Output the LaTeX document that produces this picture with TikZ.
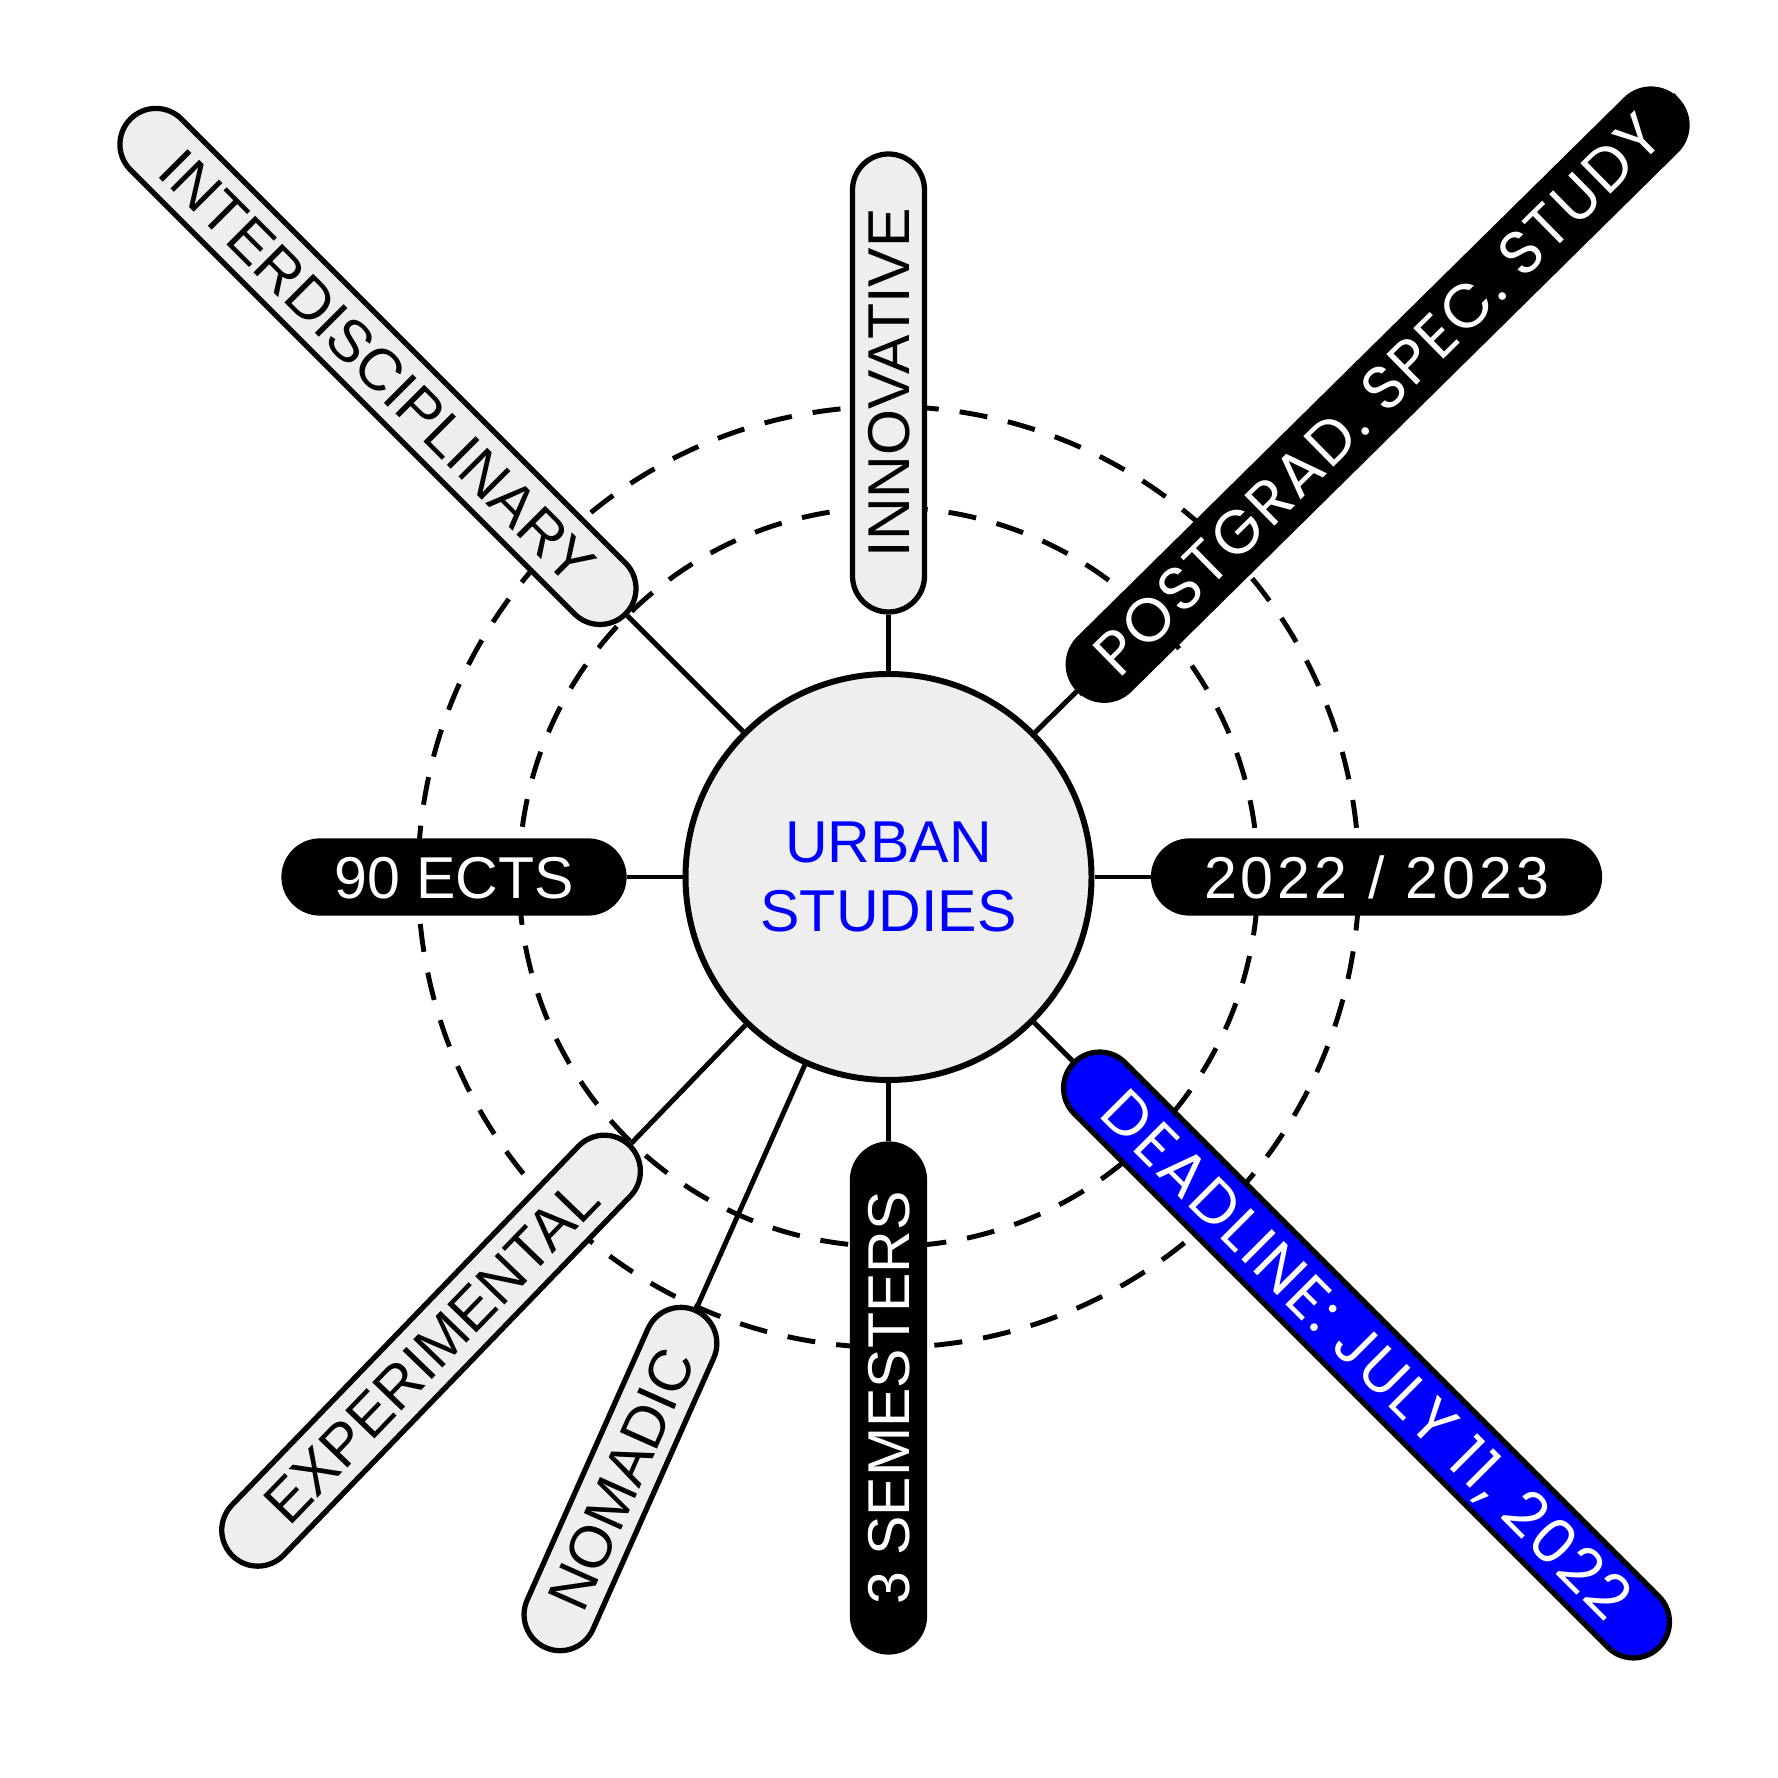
\documentclass[tikz,border=0pt]{standalone}
\usepackage{fontspec}
\setmainfont{Liberation Sans}
\newfontfamily\geofont[LetterSpace=4]{Poppins}
\newfontfamily\widefont[LetterSpace=7]{Liberation Sans}
\usetikzlibrary{calc}
\definecolor{pillgrey}{HTML}{EEEEEE}
\definecolor{deadblue}{HTML}{0000FF}

\begin{document}
\begin{tikzpicture}[
  hubNode/.style={circle, draw, line width=1.7pt, fill=pillgrey,
                  minimum size=4.06cm, inner sep=0pt, align=center,
                  text=deadblue, font=\fontsize{16.8}{19.4}\selectfont},
  pill/.style={rectangle, draw, rounded corners=0.36cm, minimum height=0.72cm,
               inner sep=0pt, line width=1.5pt, text height=12pt, text depth=0pt,
               font=\fontsize{16.8}{20}\selectfont},
  greyPill/.style={pill, fill=pillgrey},
  blackPill/.style={pill, fill=black, text=white},
  geoPill/.style={text height=12pt, font=\geofont\fontsize{17.5}{20}\selectfont},
  link/.style={line width=1.4pt},
  ring/.style={line width=1.4pt, dash pattern=on 8pt off 6pt}
]
  \useasboundingbox (0,0) rectangle (17.78,17.78);
  \coordinate (hubc) at (8.885,9.01);

  % Dashed rings, drawn first so the pills cover them
  \draw[ring] (hubc) circle (3.695);
  \draw[ring] (hubc) circle (4.705);

  % Centre
  \node[hubNode] (hub) at (hubc) {URBAN\\STUDIES};

  % Grey pills
  \node[greyPill, minimum width=7.00cm, rotate=-45] (interd)
    at ($(hubc)+(135:7.22)$) {INTERDISCIPLINARY};
  \node[greyPill, minimum width=4.58cm, rotate=90] (innov)
    at ($(hubc)+(90:4.94)$) {INNOVATIVE};
  \node[greyPill, minimum width=3.69cm, rotate=66] (nomad)
    at ($(hubc)+(246:6.59)$) {NOMADIC};
  \node[greyPill, minimum width=5.71cm, rotate=46] (exper)
    at ($(hubc)+(226:6.585)$) {EXPERIMENTAL};

  % Black pills
  \node[blackPill, geoPill, minimum width=8.40cm, rotate=44.6] (postgrad)
    at ($(hubc)+(44.6:6.87)$) {POSTGRAD. SPEC. STUDY};
  \node[blackPill, minimum width=3.40cm] (ects)
    at ($(hubc)+(180:4.345)$) {90 ECTS};
  \node[blackPill, minimum width=4.46cm] (years)
    at ($(hubc)+(0:4.88)$) {\widefont 2022 / 2023};
  \node[blackPill, minimum width=5.08cm, rotate=90] (sems)
    at ($(hubc)+(270:5.21)$) {3 SEMESTERS};

  % Blue pill
  \node[pill, geoPill, fill=deadblue, text=white, minimum width=8.27cm, rotate=-45] (deadline)
    at ($(hubc)+(-45:6.76)$) {DEADLINE: JULY 11, 2022};

  % Spokes
  \foreach \p in {interd, innov, postgrad, ects, years, deadline, sems, nomad, exper}
    \draw[link] (hub) -- (\p);
\end{tikzpicture}
\end{document}
